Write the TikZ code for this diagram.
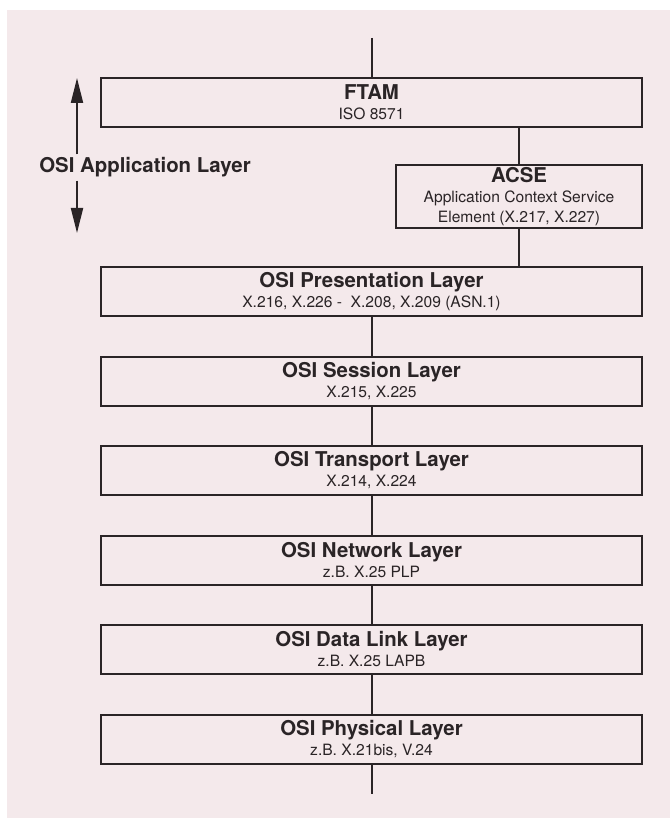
\documentclass[tikz,border=0pt]{standalone}
\usepackage{fontspec}
\setmainfont{TeX Gyre Heros}
\usetikzlibrary{arrows.meta,positioning}
\definecolor{PaperPink}{HTML}{F4E9EB}
\definecolor{Ink}{HTML}{2A2426}
\newcommand{\lyname}[1]{{\fontsize{10.2}{10}\selectfont\bfseries #1}}
\tikzset{
  layerbox/.style={draw=Ink, line width=1pt, text=Ink, align=center, minimum width=270.5pt, minimum height=24.5pt, inner sep=0pt, font=\fontsize{7.8}{10}\selectfont},
  acsebox/.style={layerbox, minimum width=123pt, minimum height=31.5pt},
  wire/.style={draw=Ink, line width=1pt},
  span/.style={draw=Ink, line width=1pt, -{Triangle[length=12.5pt, width=6pt]}}
}

\begin{document}
\begin{tikzpicture}[x=0.5pt, y=-0.5pt, node distance=19.25pt]
    \useasboundingbox (0,0) rectangle (670,818);
    \fill[PaperPink] (7,10) rectangle (670,818);

    % application layer
    \node[layerbox] (ftam) at (371.5,102.5) {\lyname{FTAM}\\ISO 8571};
    \node[acsebox] (acse) at (519,196.5) {\lyname{ACSE}\\Application Context Service\\Element (X.217, X.227)};
    \node[text=Ink, font=\fontsize{10.2}{12}\selectfont\bfseries, inner xsep=0pt, inner ysep=1.5pt] (applabel) at (145,167.5) {OSI Application Layer};
    \coordinate (apptop) at (77,78);
    \coordinate (appbot) at (77,233);

    % lower layers
    \node[layerbox] (pres) at (371.5,291.5) {\lyname{OSI Presentation Layer}\\X.216, X.226 - \ X.208, X.209 (ASN.1)};
    \node[layerbox, below=of pres] (sess) {\lyname{OSI Session Layer}\\X.215, X.225};
    \node[layerbox, below=of sess] (trans) {\lyname{OSI Transport Layer}\\X.214, X.224};
    \node[layerbox, below=of trans] (net) {\lyname{OSI Network Layer}\\z.B. X.25 PLP};
    \node[layerbox, below=of net] (dlink) {\lyname{OSI Data Link Layer}\\z.B. X.25 LAPB};
    \node[layerbox, below=of dlink] (phys) {\lyname{OSI Physical Layer}\\z.B. X.21bis, V.24};

    \coordinate (feedin) at (371.5,38);
    \coordinate (feedout) at (371.5,794);

    \draw[wire] (feedin) -- (ftam);
    \draw[wire] (acse.north |- ftam.south) -- (acse.north);
    \draw[wire] (acse.south) -- (acse.south |- pres.north);
    \foreach \a/\b in {pres/sess, sess/trans, trans/net, net/dlink, dlink/phys}
      \draw[wire] (\a) -- (\b);
    \draw[wire] (phys) -- (feedout);

    \draw[span] (applabel.north -| apptop) -- (apptop);
    \draw[span] (applabel.south -| appbot) -- (appbot);
\end{tikzpicture}
\end{document}
